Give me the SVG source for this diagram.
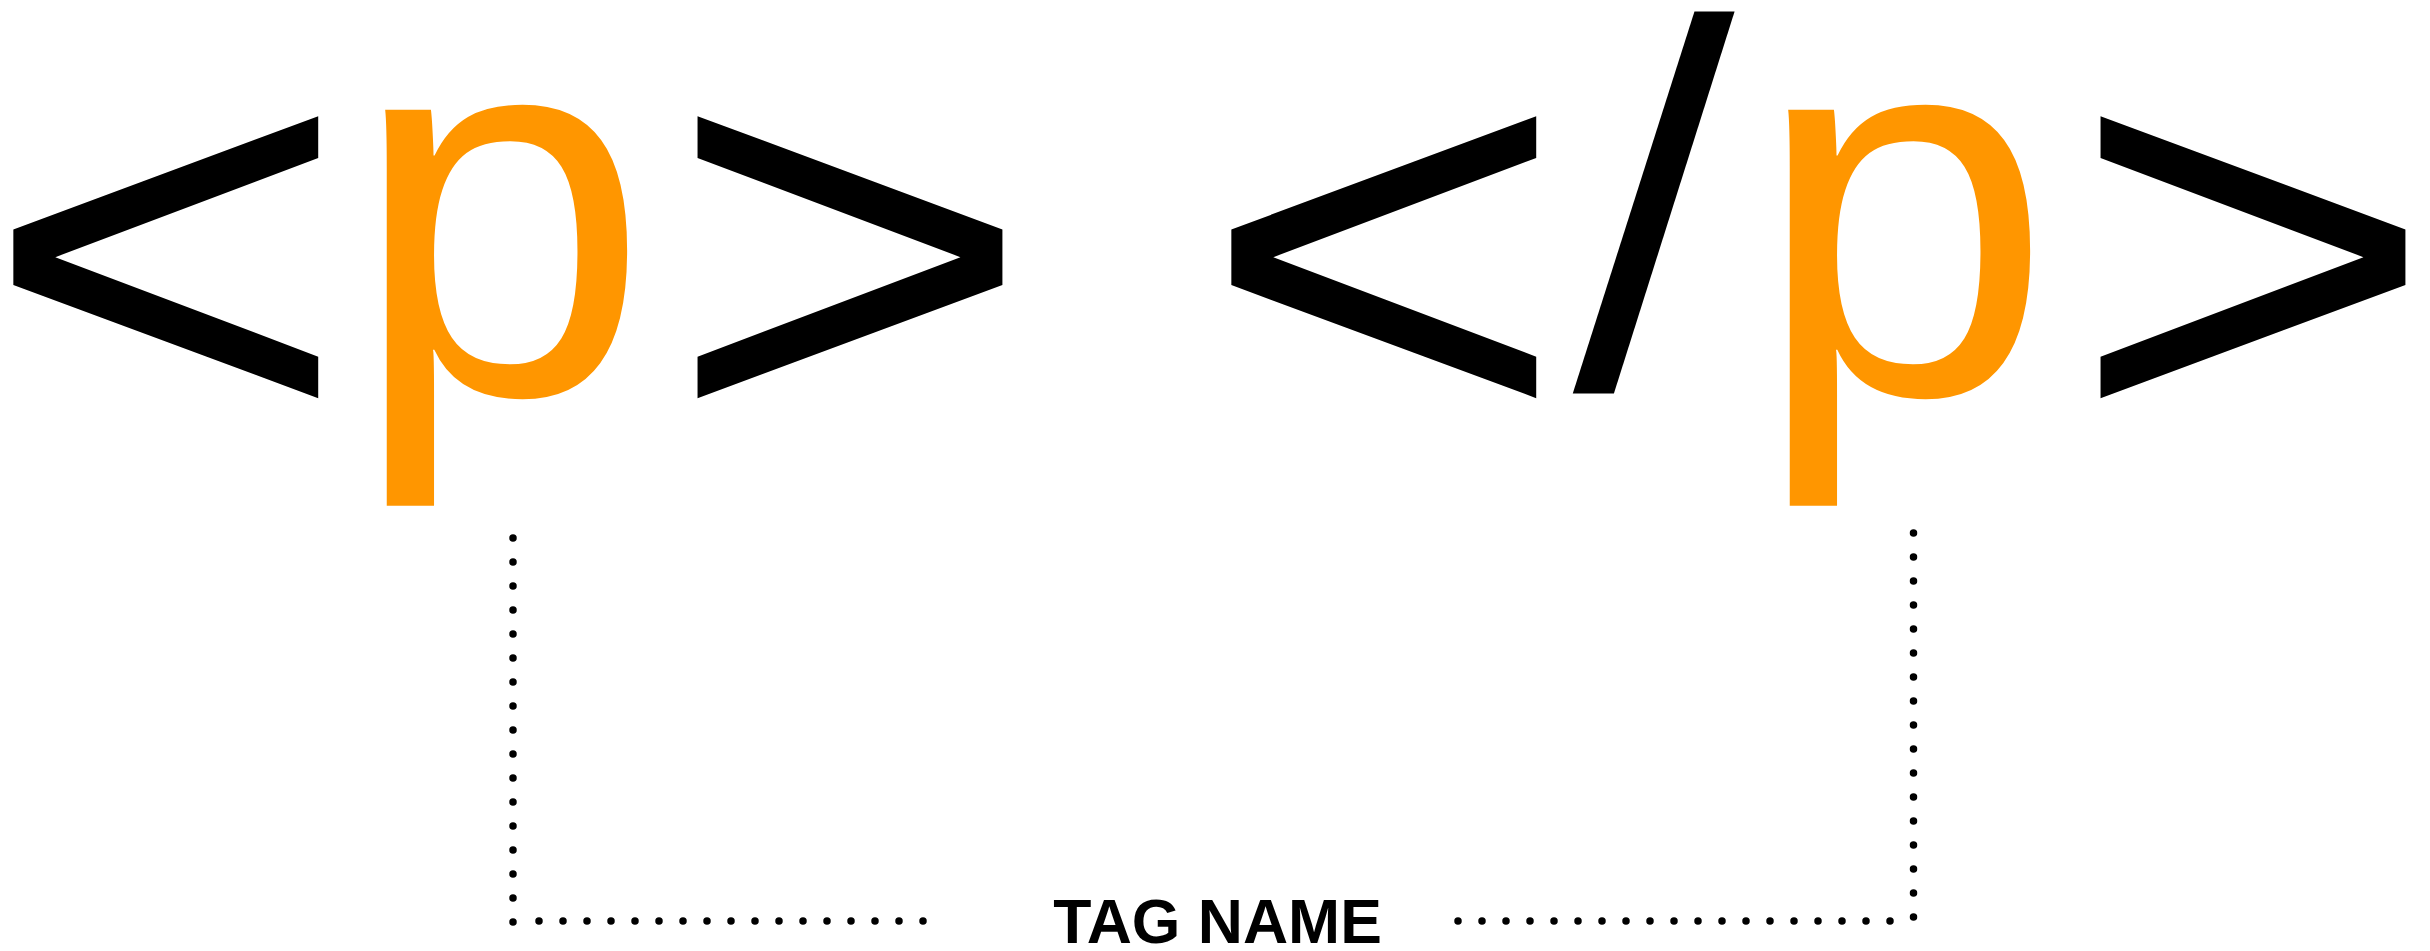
<svg xmlns="http://www.w3.org/2000/svg" width="2430" height="951" viewBox="0 0 2430 951">
<style>
.br{font-family:"Liberation Sans",Arial,sans-serif;fill:#000}
.tg{font-family:"Liberation Sans",Arial,sans-serif;fill:#FF9600}
.lb{font-family:"Liberation Sans",Arial,sans-serif;font-weight:bold;fill:#000}
.dot{fill:none;stroke:#000;stroke-width:7.5;stroke-linecap:round;stroke-dasharray:0 24}
</style>
<rect width="2430" height="951" fill="#fff"/>
<g id="open-tag">
<text class="br" font-size="100" transform="translate(-17.6,439.9) scale(6.275,5.553)">&lt;</text>
<text class="tg" font-size="538" x="350.5" y="394">p</text>
<text class="br" font-size="100" transform="translate(666.6,439.9) scale(6.275,5.553)">&gt;</text>
</g>
<g id="close-tag">
<text class="br" font-size="100" transform="translate(1200.4,439.9) scale(6.275,5.553)">&lt;</text>
<text class="br" font-size="520" transform="translate(1573,388.4) skewX(-2.6)">/</text>
<text class="tg" font-size="538" x="1753.5" y="394">p</text>
<text class="br" font-size="100" transform="translate(2069.6,439.9) scale(6.275,5.553)">&gt;</text>
</g>
<g id="label">
<text class="lb" font-size="62.5" x="1217.5" y="943" text-anchor="middle">TAG NAME</text>
</g>
<g id="connectors">
<line class="dot" x1="513" y1="538" x2="513" y2="923"/>
<line class="dot" x1="539" y1="921" x2="924" y2="921"/>
<line class="dot" x1="1458" y1="921" x2="1891" y2="921"/>
<line class="dot" x1="1913.5" y1="917" x2="1913.5" y2="532"/>
</g>
</svg>
